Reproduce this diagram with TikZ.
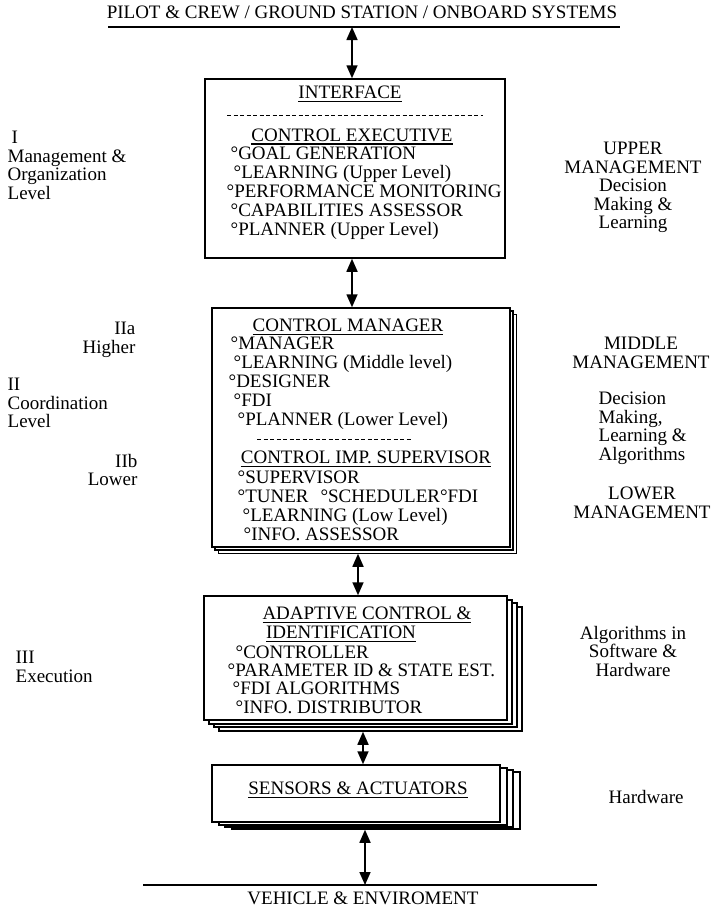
\documentclass[tikz,border=0pt]{standalone}
\usepackage{fontspec}
\setmainfont{Liberation Serif}
\usetikzlibrary{arrows.meta}

\newcommand{\bx}{\fontsize{19}{18.5}\selectfont}
\newcommand{\ulbar}[1]{\leavevmode\vtop{\hbox{#1}\kern2pt\hrule height 1.4pt}}

\begin{document}
\begin{tikzpicture}[x=1pt, y=-1pt, line width=1.3pt,
    box/.style={draw, fill=white, inner sep=0pt, line width=1.5pt},
    sheet/.style={draw, fill=white, line width=1.2pt},
    itm/.style={anchor=base west, inner sep=0pt, font=\bx},
    ttl/.style={anchor=base, inner sep=0pt, font=\bx},
    side/.style={inner sep=0pt, font=\bx},
    sepline/.style={dash pattern=on 4pt off 2.5pt, line width=0.8pt},
    link/.style={{Triangle[length=13pt,width=11pt]}-{Triangle[length=13pt,width=11pt]}, line width=1.6pt}]

\useasboundingbox (0,0) rectangle (715,910);

% top line
\node[ttl] (top) at (362,19) {PILOT \& CREW / GROUND STATION / ONBOARD SYSTEMS};
\coordinate (tl) at (108,27);
\coordinate (tr) at (620,27);
\draw (tl) -- (tr);

% arrow columns
\coordinate (ax1) at (352,0);
\coordinate (ax2) at (358,0);
\coordinate (ax3) at (363,0);
\coordinate (ax4) at (365,0);

% level I
\node[box, minimum width=300pt, minimum height=179pt] (box1) at (355,168.5) {};
\node[ttl] (intf) at (350,98.5) {\ulbar{INTERFACE}};
\draw[sepline] (227,115) -- (483,115);
\node[ttl] (exec) at (352,141) {\ulbar{CONTROL EXECUTIVE}};
\foreach \x/\y/\t [count=\i] in {230/159.5/{°GOAL GENERATION},
    233/178.5/{°LEARNING (Upper Level)}, 226/197/{°PERFORMANCE MONITORING},
    230/216/{°CAPABILITIES ASSESSOR}, 230/235/{°PLANNER (Upper Level)}}
  \node[itm] (exec\i) at (\x,\y) {\t};

% level II
\draw[sheet, line width=1pt] (218,314) rectangle (516,553);
\draw[sheet, line width=2.6pt] (215,311) rectangle (513,550);
\node[box, minimum width=298pt, minimum height=239pt] (box2) at (361,427.5) {};
\node[ttl] (mgr) at (348,331.5) {\ulbar{CONTROL MANAGER}};
\foreach \x/\y/\t [count=\i] in {230/349.5/{°MANAGER},
    233/368.5/{°LEARNING (Middle level)}, 228/387.5/{°DESIGNER},
    233/406.5/{°FDI}, 237/425.5/{°PLANNER (Lower Level)}}
  \node[itm] (mgr\i) at (\x,\y) {\t};
\draw[sepline] (257,439) -- (412,439);
\node[ttl] (sup) at (366,463.5) {\ulbar{CONTROL IMP. SUPERVISOR}};
\foreach \x/\y/\t [count=\i] in {237/483/{°SUPERVISOR},
    237/502/{°TUNER\hspace{12pt}°SCHEDULER°FDI},
    242/521/{°LEARNING (Low Level)}, 243/540/{°INFO. ASSESSOR}}
  \node[itm] (sup\i) at (\x,\y) {\t};

% level III
\foreach \d/\e in {15/11, 10/7, 5/4}
  \draw[sheet] (204+\d,596+\e) rectangle (507+\d,720+\e);
\node[box, minimum width=303pt, minimum height=124pt] (box3) at (355.5,658) {};
\node[ttl] (adap) at (367,619.5) {\ulbar{ADAPTIVE CONTROL \&}};
\node[ttl] (ident) at (341,638.5) {\ulbar{IDENTIFICATION}};
\foreach \x/\y/\t [count=\i] in {235/658.5/{°CONTROLLER},
    227/676.5/{°PARAMETER ID \& STATE EST.}, 232/694.5/{°FDI ALGORITHMS},
    235/713.5/{°INFO. DISTRIBUTOR}}
  \node[itm] (adap\i) at (\x,\y) {\t};

% hardware
\foreach \d/\e in {20/7, 13/5, 7/3}
  \draw[sheet] (212+\d,765+\e) rectangle (500+\d,822+\e);
\node[box, minimum width=288pt, minimum height=57pt] (box4) at (356,793.5) {};
\node[ttl] (sens) at (358,794.5) {\ulbar{SENSORS \& ACTUATORS}};

% bottom line
\coordinate (bl) at (143,885);
\coordinate (br) at (597,885);
\draw (bl) -- (br);
\node[ttl] (veh) at (363,904) {VEHICLE \& ENVIROMENT};

% arrows
\draw[link] (ax1 |- tl) -- (ax1 |- box1.north);
\draw[link] (ax1 |- box1.south) -- (ax1 |- box2.north);
\draw[link, shorten <=6pt] (ax2 |- box2.south) -- (ax2 |- box3.north);
\draw[link, shorten <=11pt] (ax3 |- box3.south) -- (ax3 |- box4.north);
\draw[link, shorten <=7pt] (ax4 |- box4.south) -- (ax4 |- bl);

% left side
\node[side, align=left, anchor=north west] (lvl1) at (7,130.5) {\hspace{4pt}I\\Management \&\\Organization\\Level};
\node[side, align=right, anchor=north east] (lvl2a) at (136,321.5) {IIa\\Higher};
\node[side, align=left, anchor=north west] (lvl2) at (7,377.5) {II\\Coordination\\Level};
\node[side, align=right, anchor=north east] (lvl2b) at (138,453.5) {IIb\\Lower};
\node[side, align=left, anchor=north west] (lvl3) at (15,650.5) {III\\Execution};

% right side
\node[side, align=center, anchor=north] (upm) at (633,141.5) {UPPER\\MANAGEMENT\\Decision\\Making \&\\Learning};
\node[side, align=center, anchor=north] (midm) at (641,336.5) {MIDDLE\\MANAGEMENT};
\node[side, align=left, anchor=north west] (dmla) at (598,391.5) {Decision\\Making,\\Learning \&\\Algorithms};
\node[side, align=center, anchor=north] (lowm) at (642,486.5) {LOWER\\MANAGEMENT};
\node[side, align=center, anchor=north] (algs) at (633,625.5) {Algorithms in\\Software \&\\Hardware};
\node[side, anchor=base west] (hw) at (608,803.5) {Hardware};
\end{tikzpicture}
\end{document}
